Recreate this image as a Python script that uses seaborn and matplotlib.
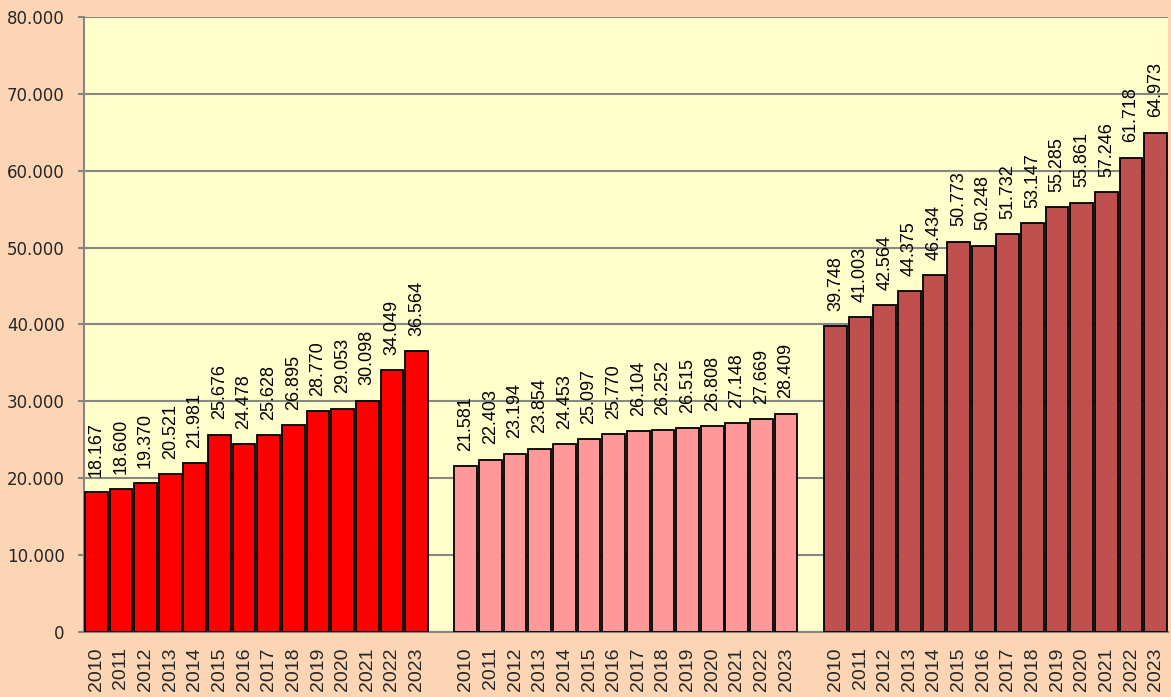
import pandas as pd
import numpy as np
import matplotlib.pyplot as plt
import seaborn as sns

years = [str(y) for y in range(2010, 2024)]
group_a = [18167, 18600, 19370, 20521, 21981, 25676, 24478, 25628, 26895, 28770, 29053, 30098, 34049, 36564]
group_b = [21581, 22403, 23194, 23854, 24453, 25097, 25770, 26104, 26252, 26515, 26808, 27148, 27669, 28409]
group_c = [39748, 41003, 42564, 44375, 46434, 50773, 50248, 51732, 53147, 55285, 55861, 57246, 61718, 64973]
groups = ["A", "B", "C"]
colors = ["#FF0000", "#FF9999", "#C0504D"]

rows = []
for g, vals in zip(groups, [group_a, group_b, group_c]):
    for yr, v in zip(years, vals):
        rows.append({"slot": f"{g}{yr}", "year": yr, "value": v, "group": g})
df = pd.DataFrame(rows)

# slot order with one empty slot between groups
order = []
tick_labels = []
for i, g in enumerate(groups):
    order += [f"{g}{yr}" for yr in years]
    tick_labels += years
    if i < len(groups) - 1:
        order.append(f"gap{i}")
        tick_labels.append("")

sns.set_style("white")
plt.rcParams["font.family"] = ["Liberation Sans", "DejaVu Sans"]

fig = plt.figure(figsize=(11.71, 6.97), dpi=100)
fig.patch.set_facecolor("#FCD5B5")
ax = fig.add_axes([0.0717, 0.0933, 0.9257, 0.8823])
ax.set_facecolor("#FFFFCC")

sns.barplot(
    data=df, x="slot", y="value", hue="group", order=order,
    palette=dict(zip(groups, colors)), saturation=1, dodge=False, width=0.92,
    edgecolor="black", linewidth=1.3, legend=False, ax=ax, zorder=3,
)

for cont, vals in zip(ax.containers, [group_a, group_b, group_c]):
    labs = [f"{v:,}".replace(",", ".") for v in vals]
    txts = ax.bar_label(cont, labels=labs, rotation=90, padding=11, fontsize=13, color="black")
    for t in txts:
        t.set_ha("center")
        t.set_va("bottom")
        t.set_rotation_mode("default")

ax.set_xlim(-0.5, len(order) - 0.5)
ax.set_ylim(0, 80000)
yt = np.arange(0, 80001, 10000)
ax.set_yticks(yt)
ax.set_yticklabels(["0"] + [f"{v:,}".replace(",", ".") for v in yt[1:]],
                   family="DejaVu Sans", fontsize=12)
ax.yaxis.grid(True, color="#868686", linewidth=1.5, zorder=0)
ax.set_axisbelow(True)

ax.set_xticks(range(len(order)))
ax.set_xticklabels(tick_labels, rotation=90, fontsize=14)
ax.set_xticks(np.arange(-0.5, len(order), 1), minor=True)
ax.tick_params(axis="x", which="major", length=0, pad=11)
ax.tick_params(axis="x", which="minor", length=5, width=1.5, color="#868686")
ax.tick_params(axis="y", length=4.5, width=1.5, color="#868686", pad=9.5, left=True)
ax.set_xlabel("")
ax.set_ylabel("")

for s in ["top", "right"]:
    ax.spines[s].set_visible(False)
for s in ["left", "bottom"]:
    ax.spines[s].set_color("#868686")
    ax.spines[s].set_linewidth(1.5)

fig.savefig("out.png", dpi=100, facecolor=fig.get_facecolor())
